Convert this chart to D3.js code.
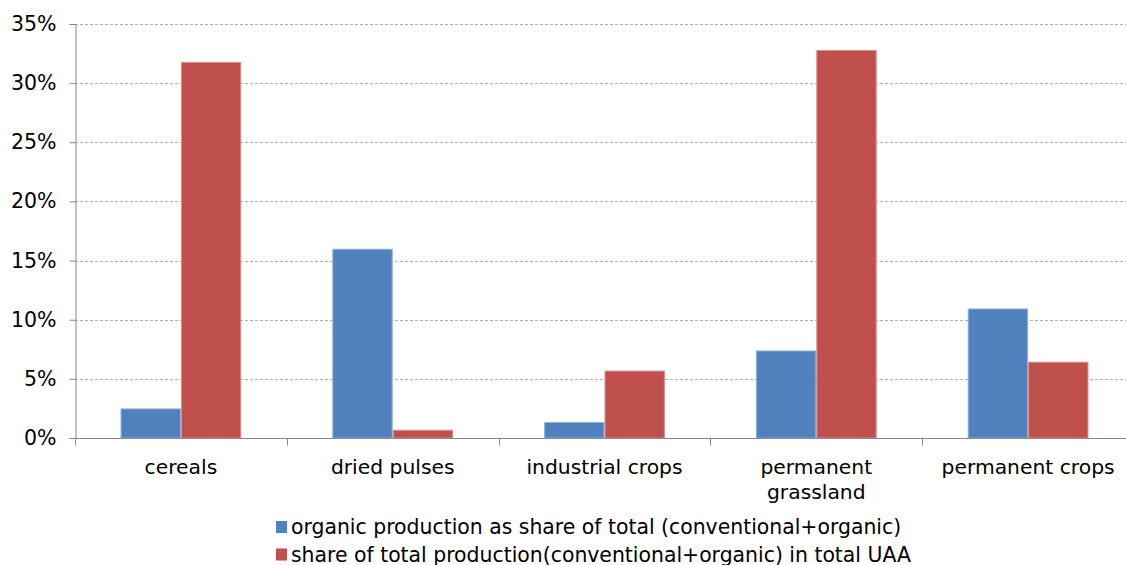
<!DOCTYPE html>
<html>
<head>
<meta charset="utf-8">
<script src="https://cdn.jsdelivr.net/npm/d3@7"></script>
<style>
    body { margin: 0; background: #fff; }
    svg { font-family: "DejaVu Sans", Verdana, sans-serif; }
</style>
</head>
<body>
<svg id="chart" width="1126" height="565"></svg>
<script>
var categories = ["cereals", "dried pulses", "industrial crops", "permanent grassland", "permanent crops"];
var seriesNames = [
    "organic production as share of total (conventional+organic)",
    "share of total production(conventional+organic) in total UAA"
];
var organicShare = [2.5, 16.0, 1.35, 7.4, 10.95];
var uaaShare = [31.8, 0.7, 5.7, 32.8, 6.45];
var yTicks = [0, 5, 10, 15, 20, 25, 30, 35];
var colors = ["#4F81BD", "#C0504D"];
var strokes = ["#8EB0DA", "#DB8F8D"];

var margin = { top: 24, right: 0, bottom: 127, left: 75 },
    width = 1126 - margin.left - margin.right,
    height = 565 - margin.top - margin.bottom

var svg = d3.select("#chart")
    .append("g")
    .attr("transform", "translate(" + margin.left + "," + margin.top + ")")

// the category axis runs a little past the right edge of the picture
var x = d3.scaleBand()
    .domain(categories)
    .range([0, 1059])
    .paddingInner(0.43)
    .paddingOuter(0.215)

var x1 = d3.scaleBand()
    .domain([0, 1])
    .range([0, x.bandwidth()])

var y = d3.scaleLinear()
    .domain([0, 35])
    .range([height, 0])

// gridlines
svg.selectAll(".grid")
    .data(yTicks.filter(function (d) { return d > 0; }))
    .enter().append("line")
    .attr("x1", 0)
    .attr("x2", width)
    .attr("y1", function (d) { return Math.round(y(d)) + 0.5; })
    .attr("y2", function (d) { return Math.round(y(d)) + 0.5; })
    .attr("stroke", "#b0b0b0")
    .attr("stroke-dasharray", "3,2")

// bars
var rows = categories.map(function (c, i) { return { cat: c, vals: [organicShare[i], uaaShare[i]] }; });

var groups = svg.selectAll(".group")
    .data(rows)
    .enter().append("g")
    .attr("transform", function (d) { return "translate(" + x(d.cat) + ",0)"; })

groups.selectAll("rect")
    .data(function (d) { return d.vals; })
    .enter().append("rect")
    .attr("x", function (d, i) { return x1(i) + 0.5; })
    .attr("y", function (d) { return y(d) + 0.5; })
    .attr("width", x1.bandwidth() - 1)
    .attr("height", function (d) { return height - y(d) - 0.5; })
    .attr("fill", function (d, i) { return colors[i]; })
    .attr("stroke", function (d, i) { return strokes[i]; })
    .attr("stroke-width", 1)

// y axis
var yAxis = svg.append("g")
    .attr("transform", "translate(0.5,0)")
    .call(d3.axisLeft(y).tickValues(yTicks).tickSize(6).tickPadding(13)
        .tickFormat(function (d) { return d + "%"; }))
yAxis.select(".domain").attr("stroke", "#868686")
yAxis.selectAll(".tick line").attr("stroke", "#868686")
yAxis.selectAll("text")
    .attr("fill", "#000")
    .style("font-size", "20.5px")
    .style("font-family", "DejaVu Sans")

// x axis
var boundaries = d3.range(categories.length + 1).map(function (i) { return i * x.step(); });
var xAxis = svg.append("g")
    .attr("transform", "translate(0," + (height + 0.5) + ")")
xAxis.append("line")
    .attr("x1", 0)
    .attr("x2", width)
    .attr("stroke", "#868686")
xAxis.selectAll(".xtick")
    .data(boundaries)
    .enter().append("line")
    .attr("x1", function (d) { return Math.round(d) + 0.5; })
    .attr("x2", function (d) { return Math.round(d) + 0.5; })
    .attr("y1", 0)
    .attr("y2", 7)
    .attr("stroke", "#868686")

var labelSplit = {
    "permanent grassland": ["permanent", "grassland"]
};
xAxis.selectAll(".xlabel")
    .data(categories)
    .enter().append("text")
    .attr("x", function (d) { return x(d) + x.bandwidth() / 2; })
    .attr("y", 35)
    .attr("text-anchor", "middle")
    .style("font-size", "20.3px")
    .each(function (d) {
        var lines = labelSplit[d] || [d];
        var t = d3.select(this);
        lines.forEach(function (l, i) {
            t.append("tspan")
                .attr("x", x(d) + x.bandwidth() / 2)
                .attr("dy", i === 0 ? 0 : 25)
                .text(l);
        });
    })

// legend
var legend = d3.select("#chart").append("g")
    .attr("transform", "translate(276,521)")
var items = legend.selectAll(".item")
    .data(seriesNames)
    .enter().append("g")
    .attr("transform", function (d, i) { return "translate(0," + (i * 27.5) + ")"; })
items.append("rect")
    .attr("width", 11)
    .attr("height", 12)
    .attr("fill", function (d, i) { return colors[i]; })
items.append("text")
    .attr("x", 15)
    .attr("y", 13)
    .style("font-size", "20.4px")
    .text(function (d) { return d; })
</script>
</body>
</html>
